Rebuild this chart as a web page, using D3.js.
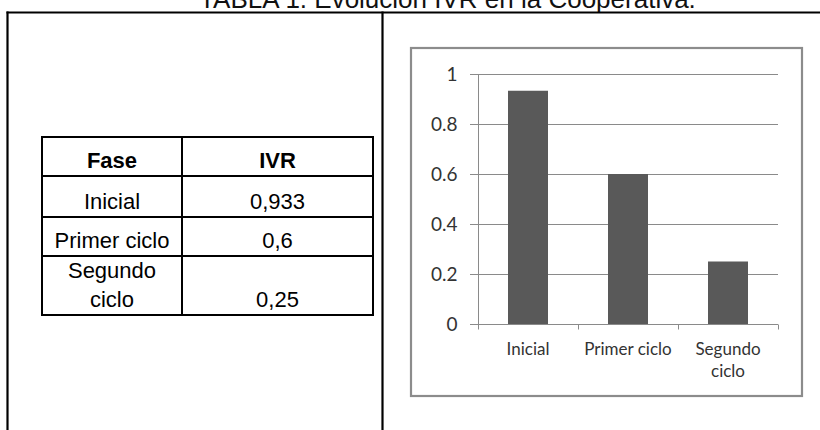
<!DOCTYPE html>
<html>
<head>
<meta charset="utf-8">
<script src="https://cdn.jsdelivr.net/npm/d3@7"></script>
<style>
  html, body { margin: 0; padding: 0; background: #fff; }
  svg { display: block; }
</style>
</head>
<body>
<svg id="fig" width="820" height="430"></svg>
<script>
// Data
const fases = ["Inicial", "Primer ciclo", "Segundo ciclo"];
const ivr = [0.933, 0.6, 0.25];
const tablaFase = ["Inicial", "Primer ciclo", "Segundo\nciclo"];
const ejeCategorias = ["Inicial", "Primer ciclo", "Segundo\nciclo"];
const yTicks = [0, 0.2, 0.4, 0.6, 0.8, 1];
const titulo = "TABLA 1. Evolución IVR en la Cooperativa.";
const encabezados = ["Fase", "IVR"];

const svg = d3.select("#fig");
const sans = "'Liberation Sans', Arial, sans-serif";
const chartFont = "Lato, 'Open Sans', sans-serif";

// Spanish number formatting for the table (decimal comma)
const es = d3.formatLocale({ decimal: ",", thousands: ".", grouping: [3], currency: ["", ""] });
const fmtEs = es.format("~g");

// Title (partly above the top edge)
svg.append("text")
  .attr("x", 447.5).attr("y", 7.5)
  .attr("text-anchor", "middle")
  .attr("font-family", sans).attr("font-size", 26)
  .attr("fill", "#111")
  .text(titulo);

// Outer frame of the document table
const frame = svg.append("g").attr("stroke", "#000").attr("stroke-width", 2.2);
frame.append("line").attr("x1", 6.5).attr("x2", 830).attr("y1", 12.5).attr("y2", 12.5);
frame.append("line").attr("x1", 7.5).attr("x2", 7.5).attr("y1", 11.5).attr("y2", 440);
frame.append("line").attr("x1", 382.5).attr("x2", 382.5).attr("y1", 11.5).attr("y2", 440);

// Inner data table
const tx0 = 42, tx1 = 182, tx2 = 373;
const rowY = [137, 176, 217, 256, 315];
const tbl = svg.append("g");
const tLines = tbl.append("g").attr("stroke", "#000").attr("stroke-width", 2);
rowY.forEach(y => tLines.append("line").attr("x1", tx0 - 1).attr("x2", tx2 + 1).attr("y1", y).attr("y2", y));
[tx0, tx1, tx2].forEach(x => tLines.append("line").attr("x1", x).attr("x2", x).attr("y1", rowY[0]).attr("y2", rowY[rowY.length - 1]));

const colC = [(tx0 + tx1) / 2, (tx1 + tx2) / 2];
encabezados.forEach((h, i) => {
  tbl.append("text")
    .attr("x", colC[i]).attr("y", rowY[1] - 8)
    .attr("text-anchor", "middle")
    .attr("font-family", sans).attr("font-size", 22).attr("font-weight", "bold")
    .attr("fill", "#000")
    .text(h);
});
fases.forEach((f, i) => {
  const bottom = rowY[i + 2] - 8;
  const lines = tablaFase[i].split("\n");
  lines.forEach((ln, j) => {
    tbl.append("text")
      .attr("x", colC[0]).attr("y", bottom - (lines.length - 1 - j) * 29)
      .attr("text-anchor", "middle")
      .attr("font-family", sans).attr("font-size", 22)
      .attr("fill", "#000")
      .text(ln);
  });
  tbl.append("text")
    .attr("x", colC[1]).attr("y", bottom)
    .attr("text-anchor", "middle")
    .attr("font-family", sans).attr("font-size", 22)
    .attr("fill", "#000")
    .text(fmtEs(ivr[i]));
});

// Column chart
const chart = svg.append("g");
chart.append("rect")
  .attr("x", 411).attr("y", 48).attr("width", 391).attr("height", 348)
  .attr("fill", "#fff").attr("stroke", "#8c8c8c").attr("stroke-width", 2.2);

const x = d3.scaleBand().domain(fases).range([478, 778]).paddingInner(0.6).paddingOuter(0.3);
const y = d3.scaleLinear().domain([0, 1]).range([324, 74]);

// Gridlines
chart.append("g").selectAll("line").data(yTicks).join("line")
  .attr("x1", 470).attr("x2", 778)
  .attr("y1", d => Math.round(y(d)) + 0.5).attr("y2", d => Math.round(y(d)) + 0.5)
  .attr("stroke", "#8a8a8a").attr("stroke-width", 1);

// Bars
chart.append("g").selectAll("rect").data(fases).join("rect")
  .attr("x", d => x(d)).attr("width", x.bandwidth())
  .attr("y", (d, i) => y(ivr[i])).attr("height", (d, i) => y(0) - y(ivr[i]))
  .attr("fill", "#595959");

// Y axis
const yAxis = chart.append("g").attr("transform", "translate(478.5,0)")
  .call(d3.axisLeft(y).tickValues(yTicks).tickFormat(d3.format("~g")).tickSize(0).tickPadding(21));
yAxis.select(".domain").attr("stroke", "#8a8a8a").attr("d", "M0," + y(1) + "V" + y(0));
yAxis.selectAll("text").attr("font-family", chartFont).attr("font-size", 19).attr("fill", "#333");

// X axis
const xAxis = chart.append("g").attr("transform", "translate(0," + (Math.round(y(0)) + 0.5) + ")")
  .call(d3.axisBottom(x).tickSize(0).tickPadding(0));
xAxis.select(".domain").attr("stroke", "#8a8a8a").attr("d", "M470,0H778");
xAxis.selectAll(".tick line").remove();
xAxis.selectAll(".tick text").remove();
const bounds = [478, ...fases.map(f => x(f) + x.bandwidth() / 2 + x.step() / 2)];
xAxis.selectAll("line.sep").data(bounds).join("line").attr("class", "sep")
  .attr("x1", d => Math.round(d) + 0.5).attr("x2", d => Math.round(d) + 0.5)
  .attr("y1", 0).attr("y2", 5).attr("stroke", "#8a8a8a");
xAxis.selectAll(".tick").each(function (d, i) {
  const lines = ejeCategorias[i].split("\n");
  const t = d3.select(this).append("text")
    .attr("text-anchor", "middle")
    .attr("font-family", chartFont).attr("font-size", 17).attr("fill", "#333");
  lines.forEach((ln, j) => t.append("tspan").attr("x", 0).attr("y", 30 + j * 22).text(ln));
});
</script>
</body>
</html>
